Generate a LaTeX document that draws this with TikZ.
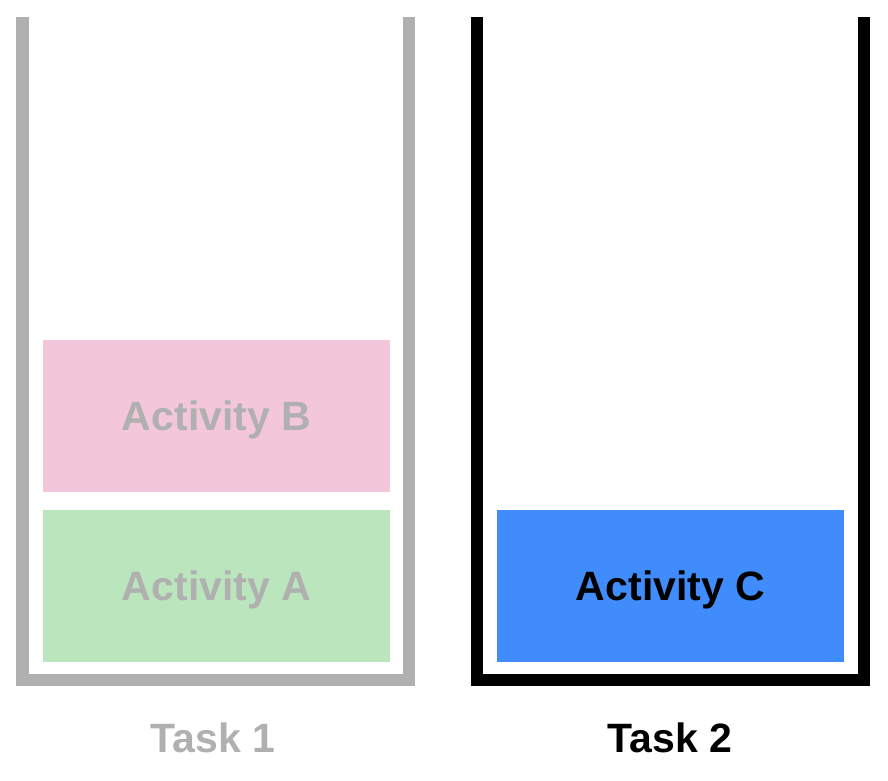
\documentclass[tikz,border=0pt]{standalone}
\usepackage{fontspec}
\setmainfont{Liberation Sans}
\definecolor{wallgray}{HTML}{B0B0B0}
\definecolor{pinkbox}{HTML}{F3C6DA}
\definecolor{greenbox}{HTML}{BBE5BC}
\definecolor{bluebox}{HTML}{418CFC}
\begin{document}
\begin{tikzpicture}[x=1pt,y=-1pt,
  wall/.style={line width=12.5pt, line join=miter, line cap=butt},
  boldtext/.style={inner sep=0pt, text height=29.4pt, text depth=0pt, font=\fontsize{41}{43}\selectfont\bfseries},
  actbox/.style={boldtext, draw=none, minimum width=347pt, minimum height=152pt}]
\useasboundingbox (0,0) rectangle (888,780);
% containers
\draw[wall, wallgray] (22.5,17) -- (22.5,680) -- (409,680) -- (409,17);
\draw[wall, black] (477,17) -- (477,680) -- (864,680) -- (864,17);
% activities
\node[actbox, fill=pinkbox, text=wallgray] (b) at (216.5,416) {Activity B};
\node[actbox, fill=greenbox, text=wallgray] (a) at (216.5,586) {Activity A};
\node[actbox, fill=bluebox, text=black] (c) at (670.5,586) {Activity C};
% labels
\node[boldtext, text=wallgray] (t1) at (213,738) {Task 1};
\node[boldtext, text=black] (t2) at (670,738) {Task 2};
\end{tikzpicture}
\end{document}
